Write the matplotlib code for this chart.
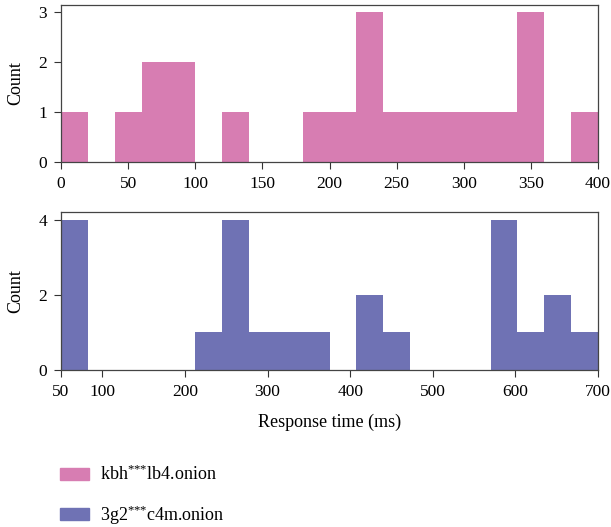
import numpy as np
import matplotlib.pyplot as plt
import matplotlib.patches as mpatches

plt.rcParams['font.family'] = ['Liberation Serif', 'DejaVu Serif']
plt.rcParams['mathtext.fontset'] = 'custom'
plt.rcParams['mathtext.rm'] = 'Liberation Serif'
plt.rcParams['mathtext.it'] = 'Liberation Serif'

# top panel: 20 bins of 20 ms over 0-400
top_edges = [0, 20, 40, 60, 80, 100, 120, 140, 160, 180, 200,
             220, 240, 260, 280, 300, 320, 340, 360, 380, 400]
top_counts = [1, 0, 1, 2, 2, 0, 1, 0, 0, 1, 1, 3, 1, 1, 1, 1, 1, 3, 0, 1]

# bottom panel: 20 bins of 32.5 ms over 50-700
bot_edges = [50, 82.5, 115, 147.5, 180, 212.5, 245, 277.5, 310, 342.5, 375,
             407.5, 440, 472.5, 505, 537.5, 570, 602.5, 635, 667.5, 700]
bot_counts = [4, 0, 0, 0, 0, 1, 4, 1, 1, 1, 0, 2, 1, 0, 0, 0, 4, 1, 2, 1]

labels = ['kbh$^{{*}{*}{*}}$lb4.onion', '3g2$^{{*}{*}{*}}$c4m.onion']
colors = ['#d77db2', '#6f72b4']

fig = plt.figure(figsize=(6.11, 5.27), dpi=100, facecolor='white')
ax1 = fig.add_axes([61 / 611, 1 - 162 / 527, 537 / 611, 157 / 527])
ax2 = fig.add_axes([61 / 611, 1 - 370 / 527, 537 / 611, 158 / 527])


def draw(ax, edges, counts, color):
    edges = np.array(edges)
    ax.bar(edges[:-1], counts, width=np.diff(edges), align='edge',
           color=color, linewidth=0)
    ax.set_xlim(edges[0], edges[-1])
    ax.set_ylabel('Count', fontsize=13, labelpad=10)
    ax.tick_params(labelsize=12.5, direction='out', length=5, pad=5,
                   color='#333333')
    for s in ax.spines.values():
        s.set_color('#444444')
        s.set_linewidth(0.9)


draw(ax1, top_edges, top_counts, colors[0])
ax1.set_ylim(0, 3.15)
ax1.set_yticks([0, 1, 2, 3])
ax1.set_xticks([0, 50, 100, 150, 200, 250, 300, 350, 400])

draw(ax2, bot_edges, bot_counts, colors[1])
ax2.set_ylim(0, 4.2)
ax2.set_yticks([0, 2, 4])
ax2.set_xticks([50, 100, 200, 300, 400, 500, 600, 700])
ax2.set_xlabel('Response time (ms)', fontsize=13, labelpad=10)

handles = [mpatches.Patch(color=c, label=l) for c, l in zip(colors, labels)]
fig.legend(handles=handles, loc='lower left', bbox_to_anchor=(0.072, -0.03),
           frameon=False, fontsize=13, handlelength=1.6, handleheight=0.6,
           labelspacing=1.05, handletextpad=0.6)

fig.savefig('out.png', dpi=100)
